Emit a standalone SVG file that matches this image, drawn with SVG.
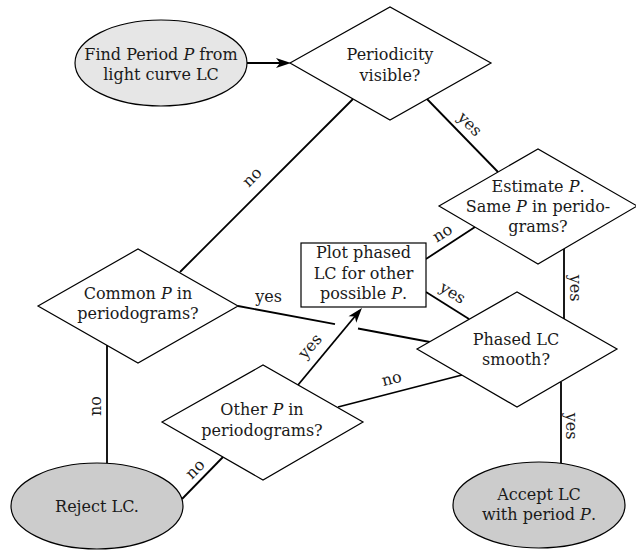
<svg xmlns="http://www.w3.org/2000/svg" width="636" height="550" viewBox="0 0 636 550">
<style>
text{font-family:"DejaVu Serif","Liberation Serif",serif;font-size:16px;fill:#1a1a1a;text-anchor:middle}
.i{font-style:italic}
.shape{stroke:#000;stroke-width:1.2;fill:#fff}
.start{fill:#e6e6e6}
.end{fill:#cccccc}
.c line,.c path{stroke:#000;stroke-width:1.8;fill:none}
</style>
<defs>
<marker id="ah" viewBox="-12 -6 17 12" refX="0" refY="0" markerWidth="17" markerHeight="12" markerUnits="userSpaceOnUse" orient="auto">
<path d="M4,0 L-11,-5 L-7,0 L-11,5 Z" fill="#000"/>
</marker>
</defs>
<g id="connectors" class="c">
<line x1="247" y1="63" x2="287" y2="63" marker-end="url(#ah)"/>
<line x1="427" y1="99" x2="498" y2="172"/>
<line x1="353" y1="99" x2="180" y2="272"/>
<line x1="426" y1="259" x2="475" y2="227"/>
<line x1="426" y1="292" x2="469" y2="319"/>
<line x1="564" y1="249" x2="564" y2="319"/>
<line x1="561" y1="382" x2="561" y2="463"/>
<line x1="107" y1="345" x2="107" y2="463"/>
<line x1="223" y1="457" x2="182" y2="499"/>
<line x1="462" y1="375" x2="338" y2="407"/>
<line x1="238" y1="306" x2="335" y2="324.2"/>
<line x1="358" y1="328.5" x2="430" y2="342"/>
<line x1="298" y1="385" x2="359.4" y2="311" marker-end="url(#ah)"/>
<text transform="translate(469,125) rotate(45)" y="4">yes</text>
<text transform="translate(253,178) rotate(-45)" y="4">no</text>
<text transform="translate(443,234) rotate(-32)" y="4">no</text>
<text transform="translate(452,294) rotate(32)" y="4">yes</text>
<text transform="translate(574,288) rotate(90)" y="4">yes</text>
<text transform="translate(570,426) rotate(90)" y="4">yes</text>
<text transform="translate(97,406) rotate(-90)" y="4">no</text>
<text transform="translate(196,470) rotate(-45)" y="4">no</text>
<text transform="translate(392,380) rotate(-14.5)" y="4">no</text>
<text transform="translate(311,347) rotate(-49.5)" y="4">yes</text>
<text x="268.5" y="302">yes</text>
</g>
<g id="find">
<ellipse class="shape start" cx="161" cy="63" rx="86" ry="43"/>
<text x="161" y="60">Find Period <tspan class="i">P</tspan> from</text>
<text x="161" y="80">light curve LC</text>
</g>
<g id="periodicity">
<polygon class="shape" points="290,63 390,7 491,63 390,120"/>
<text x="390" y="60">Periodicity</text>
<text x="390" y="81">visible?</text>
</g>
<g id="estimate">
<polygon class="shape" points="439,206 538,149 637,206 538,264"/>
<text x="538" y="192">Estimate <tspan class="i">P</tspan>.</text>
<text x="538" y="212">Same <tspan class="i">P</tspan> in perido-</text>
<text x="538" y="232">grams?</text>
</g>
<g id="plot">
<rect class="shape" x="301" y="243" width="125" height="64"/>
<text x="363.5" y="258">Plot phased</text>
<text x="363.5" y="279">LC for other</text>
<text x="363.5" y="299">possible <tspan class="i">P</tspan>.</text>
</g>
<g id="common">
<polygon class="shape" points="38,306 138,249 238,306 138,363"/>
<text x="138" y="299">Common <tspan class="i">P</tspan> in</text>
<text x="138" y="319">periodograms?</text>
</g>
<g id="phased">
<polygon class="shape" points="417,349 517,292 617,349 517,407"/>
<text x="516" y="345">Phased LC</text>
<text x="516" y="365">smooth?</text>
</g>
<g id="other">
<polygon class="shape" points="162,422 263,365 363,422 263,480"/>
<text x="262" y="415">Other <tspan class="i">P</tspan> in</text>
<text x="262" y="436">periodograms?</text>
</g>
<g id="reject">
<ellipse class="shape end" cx="97" cy="506" rx="86" ry="43"/>
<text x="97" y="512">Reject LC.</text>
</g>
<g id="accept">
<ellipse class="shape end" cx="539" cy="505" rx="86" ry="43"/>
<text x="539" y="500">Accept LC</text>
<text x="539" y="520">with period <tspan class="i">P</tspan>.</text>
</g>
</svg>
